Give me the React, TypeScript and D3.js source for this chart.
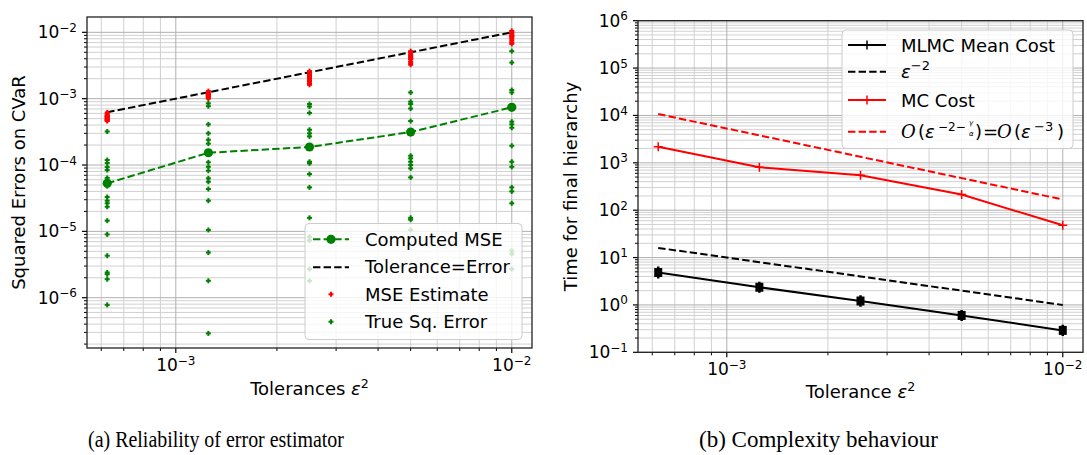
import React from 'react';
import * as d3 from 'd3';

// ---------- DATA ----------
const tolerances = [6.25e-4, 1.25e-3, 2.5e-3, 5e-3, 1e-2];
const computedMSE = [5.3e-5, 1.53e-4, 1.87e-4, 3.14e-4, 7.4e-4];
const toleranceLine = [6.25e-4, 1.25e-3, 2.5e-3, 5e-3, 1e-2];
const mseEstimates = [
  [6.2e-4, 5.9e-4, 5.6e-4, 5.4e-4, 5.2e-4, 5.0e-4, 4.9e-4, 4.7e-4, 4.6e-4, 5.5e-4, 5.3e-4, 4.8e-4],
  [1.3e-3, 1.24e-3, 1.18e-3, 1.14e-3, 1.1e-3, 1.07e-3, 1.04e-3, 1.0e-3, 1.12e-3, 1.16e-3],
  [2.6e-3, 2.45e-3, 2.3e-3, 2.2e-3, 2.1e-3, 2.0e-3, 1.9e-3, 1.8e-3, 1.7e-3, 1.62e-3, 2.05e-3],
  [5.2e-3, 4.9e-3, 4.6e-3, 4.4e-3, 4.2e-3, 3.9e-3, 3.6e-3, 3.4e-3, 3.25e-3, 4.0e-3],
  [1.05e-2, 1.0e-2, 9.5e-3, 9.0e-3, 8.5e-3, 8.0e-3, 7.5e-3, 7.0e-3, 6.7e-3, 8.8e-3],
];
const trueSqErrors = [
  [3.2e-4, 1.19e-4, 1.07e-4, 9.3e-5, 8.4e-5, 6.4e-5, 4.8e-5, 3.3e-5, 2.9e-5, 2.65e-5, 2.35e-5, 1.45e-5, 9.0e-6, 4.3e-6, 2.4e-6, 2.26e-6, 1.9e-6, 7.8e-7],
  [8.5e-4, 7.7e-4, 4.1e-4, 3.0e-4, 2.4e-4, 2.1e-4, 1.1e-4, 9.4e-5, 8.2e-5, 6.3e-5, 5.6e-5, 4.35e-5, 2.9e-5, 1.05e-5, 4.8e-6, 1.8e-6, 2.9e-7],
  [8.3e-4, 7.6e-4, 6.1e-4, 3.4e-4, 3.0e-4, 2.7e-4, 1.12e-4, 1.06e-4, 7.3e-5, 4.6e-5, 1.6e-5, 8.3e-6, 7.3e-6, 2.7e-6, 1.8e-6],
  [1.24e-3, 9.0e-4, 8.3e-4, 7.1e-4, 4.6e-4, 1.38e-4, 1.26e-4, 1.12e-4, 1.0e-4, 8.9e-5, 6.5e-5, 1.6e-5, 1.5e-5, 1.05e-5],
  [5.2e-3, 3.5e-3, 1.35e-3, 1.24e-3, 4.5e-4, 4.1e-4, 3.65e-4, 1.95e-4, 1.12e-4, 9.4e-5, 4.6e-5, 4.0e-5, 2.65e-5, 5.1e-6, 4.6e-6, 2.7e-6],
];

const mlmcCost = [4.83, 2.36, 1.21, 0.6, 0.29];
const mlmcLow = [3.6, 1.8, 0.92, 0.46, 0.22];
const mlmcHigh = [6.5, 3.1, 1.6, 0.78, 0.38];
const epsMinus2 = [16, 8, 4, 2, 1];
const mcCost = [2180, 807, 547, 214, 48];
const epsMinus3 = [10700, 3800, 1340, 475, 168];

const leftYTicks = [-6, -5, -4, -3, -2];
const rightYTicks = [-1, 0, 1, 2, 3, 4, 5, 6];
const xTicks = [-3, -2];

// ---------- HELPERS ----------
const FONT = 'DejaVu Sans, sans-serif';
const GREEN = '#008000';
const RED = '#ff0000';

function logGrid(domain: [number, number]) {
  const lo = Math.min(domain[0], domain[1]);
  const hi = Math.max(domain[0], domain[1]);
  const major: number[] = [];
  const minor: number[] = [];
  for (let e = Math.floor(Math.log10(lo)) - 1; e <= Math.ceil(Math.log10(hi)); e++) {
    for (let m = 1; m <= 9; m++) {
      const v = m * Math.pow(10, e);
      if (v < lo * 0.9999 || v > hi * 1.0001) continue;
      if (m === 1) major.push(v);
      else minor.push(v);
    }
  }
  return { major, minor };
}

function Pow10({ x, y, exp, anchor }: { x: number; y: number; exp: number; anchor: string }) {
  const s = exp < 0 ? '\u2212' + Math.abs(exp) : String(exp);
  return (
    <text x={x} y={y} textAnchor={anchor} fontFamily={FONT} fontSize={17} fill="#000">
      <tspan>10</tspan>
      <tspan dy={-6.5} fontSize={12}>{s}</tspan>
    </text>
  );
}

function Plus({ x, y, size, color, width }: { x: number; y: number; size: number; color: string; width: number }) {
  return (
    <g stroke={color} strokeWidth={width}>
      <line x1={x - size / 2} x2={x + size / 2} y1={y} y2={y} />
      <line x1={x} x2={x} y1={y - size / 2} y2={y + size / 2} />
    </g>
  );
}

type AxesProps = {
  left: number; right: number; top: number; bottom: number;
  x: d3.ScaleLogarithmic<number, number>;
  y: d3.ScaleLogarithmic<number, number>;
  yTicks: number[];
};

function Grid({ left, right, top, bottom, x, y }: AxesProps) {
  const gx = logGrid(x.domain() as [number, number]);
  const gy = logGrid(y.domain() as [number, number]);
  return (
    <g>
      {gx.minor.map((v, i) => (
        <line key={'xm' + i} x1={x(v)} x2={x(v)} y1={top} y2={bottom} stroke="#d0d0d0" strokeWidth={1} />
      ))}
      {gy.minor.map((v, i) => (
        <line key={'ym' + i} x1={left} x2={right} y1={y(v)} y2={y(v)} stroke="#d0d0d0" strokeWidth={1} />
      ))}
      {gx.major.map((v, i) => (
        <line key={'xM' + i} x1={x(v)} x2={x(v)} y1={top} y2={bottom} stroke="#b0b0b0" strokeWidth={1} />
      ))}
      {gy.major.map((v, i) => (
        <line key={'yM' + i} x1={left} x2={right} y1={y(v)} y2={y(v)} stroke="#b0b0b0" strokeWidth={1} />
      ))}
    </g>
  );
}

function Frame({ left, right, top, bottom, x, y, yTicks }: AxesProps) {
  const gx = logGrid(x.domain() as [number, number]);
  const gy = logGrid(y.domain() as [number, number]);
  return (
    <g>
      {gx.minor.map((v, i) => (
        <line key={'txm' + i} x1={x(v)} x2={x(v)} y1={bottom} y2={bottom + 3} stroke="#000" strokeWidth={1} />
      ))}
      {gx.major.map((v, i) => (
        <line key={'txM' + i} x1={x(v)} x2={x(v)} y1={bottom} y2={bottom + 5} stroke="#000" strokeWidth={1.2} />
      ))}
      {gy.minor.map((v, i) => (
        <line key={'tym' + i} x1={left - 3} x2={left} y1={y(v)} y2={y(v)} stroke="#000" strokeWidth={1} />
      ))}
      {gy.major.map((v, i) => (
        <line key={'tyM' + i} x1={left - 5} x2={left} y1={y(v)} y2={y(v)} stroke="#000" strokeWidth={1.2} />
      ))}
      <rect x={left} y={top} width={right - left} height={bottom - top} fill="none" stroke="#222" strokeWidth={1.3} />
      {xTicks.map((e) => (
        <Pow10 key={'xl' + e} x={x(Math.pow(10, e))} y={bottom + 23} exp={e} anchor="middle" />
      ))}
      {yTicks.map((e) => (
        <Pow10 key={'yl' + e} x={left - 10} y={y(Math.pow(10, e)) + 6} exp={e} anchor="end" />
      ))}
    </g>
  );
}

export default function App() {
  // Left panel
  const L = { left: 87, right: 532, top: 17, bottom: 348 };
  const xL = d3.scaleLog().domain([Math.pow(10, -3.2643), Math.pow(10, -1.9398)]).range([L.left, L.right]);
  const yL = d3.scaleLog().domain([Math.pow(10, -6.758), Math.pow(10, -1.769)]).range([L.bottom, L.top]);
  // Right panel
  const R = { left: 638, right: 1083, top: 20.7, bottom: 352.3 };
  const xR = d3.scaleLog().domain([Math.pow(10, -3.2643), Math.pow(10, -1.9398)]).range([R.left, R.right]);
  const yR = d3.scaleLog().domain([0.1, 1e6]).range([R.bottom, R.top]);

  const lineL = (vals: number[]) =>
    d3.line<number>().x((_, i) => xL(tolerances[i])).y((v) => yL(v))(vals) || '';
  const lineR = (vals: number[]) =>
    d3.line<number>().x((_, i) => xR(tolerances[i])).y((v) => yR(v))(vals) || '';

  const propsL = { ...L, x: xL, y: yL, yTicks: leftYTicks };
  const propsR = { ...R, x: xR, y: yR, yTicks: rightYTicks };

  return (
    <svg width={1087} height={455} style={{ position: 'absolute', left: 0, top: 0, background: '#fff' }}>
      <rect x={0} y={0} width={1087} height={455} fill="#fff" />
      <defs>
        <clipPath id="clipL"><rect x={L.left} y={L.top} width={L.right - L.left} height={L.bottom - L.top} /></clipPath>
        <clipPath id="clipR"><rect x={R.left} y={R.top} width={R.right - R.left} height={R.bottom - R.top} /></clipPath>
      </defs>
      {/* ---------------- Left panel ---------------- */}
      <Grid {...propsL} />
      <g clipPath="url(#clipL)">
        <path d={lineL(computedMSE)} fill="none" stroke={GREEN} strokeWidth={2} strokeDasharray="7.4,3.2" />
        {computedMSE.map((v, i) => (
          <circle key={'c' + i} cx={xL(tolerances[i])} cy={yL(v)} r={4.6} fill={GREEN} />
        ))}
        <path d={lineL(toleranceLine)} fill="none" stroke="#000" strokeWidth={2} strokeDasharray="7.4,3.2" />
        {mseEstimates.map((col, i) =>
          col.map((v, j) => <Plus key={'m' + i + '-' + j} x={xL(tolerances[i])} y={yL(v)} size={5} color={RED} width={2} />)
        )}
        {trueSqErrors.map((col, i) =>
          col.map((v, j) => <Plus key={'t' + i + '-' + j} x={xL(tolerances[i])} y={yL(v)} size={5} color={GREEN} width={2} />)
        )}
      </g>
      <Frame {...propsL} />
      {/* Left legend */}
      <g>
        <rect x={305} y={223.5} width={217} height={116} rx={4} fill="#fff" fillOpacity={0.8} stroke="#cccccc" strokeWidth={1} />
        <line x1={313} x2={349} y1={239.3} y2={239.3} stroke={GREEN} strokeWidth={2} strokeDasharray="7.4,3.2" />
        <circle cx={331} cy={239.3} r={4.6} fill={GREEN} />
        <line x1={313} x2={349} y1={267.3} y2={267.3} stroke="#000" strokeWidth={2} strokeDasharray="7.4,3.2" />
        <Plus x={331} y={294.3} size={5} color={RED} width={2} />
        <Plus x={331} y={321.7} size={5} color={GREEN} width={2} />
        <g fontFamily={FONT} fontSize={18} fill="#000">
          <text x={365} y={245.7}>Computed MSE</text>
          <text x={365} y={273.3}>Tolerance=Error</text>
          <text x={365} y={300.7}>MSE Estimate</text>
          <text x={365} y={327.7}>True Sq. Error</text>
        </g>
      </g>
      <text transform={`translate(25,${(L.top + L.bottom) / 2}) rotate(-90)`} textAnchor="middle" fontFamily={FONT} fontSize={18}>
        Squared Errors on CVaR
      </text>
      <text x={(L.left + L.right) / 2} y={395} textAnchor="middle" fontFamily={FONT} fontSize={18}>
        Tolerances <tspan fontStyle="italic">ε</tspan><tspan dy={-7} fontSize={12.6}>2</tspan>
      </text>

      {/* ---------------- Right panel ---------------- */}
      <Grid {...propsR} />
      <g clipPath="url(#clipR)">
        <path d={lineR(epsMinus3)} fill="none" stroke={RED} strokeWidth={2} strokeDasharray="7.4,3.2" />
        <path d={lineR(mcCost)} fill="none" stroke={RED} strokeWidth={2} />
        {mcCost.map((v, i) => (
          <Plus key={'mc' + i} x={xR(tolerances[i])} y={yR(v)} size={9} color={RED} width={1.5} />
        ))}
        <path d={lineR(epsMinus2)} fill="none" stroke="#000" strokeWidth={2} strokeDasharray="7.4,3.2" />
        <path d={lineR(mlmcCost)} fill="none" stroke="#000" strokeWidth={2} />
        {mlmcCost.map((v, i) => {
          const cx = xR(tolerances[i]);
          return (
            <g key={'ml' + i}>
              <line x1={cx} x2={cx} y1={yR(mlmcLow[i])} y2={yR(mlmcHigh[i])} stroke="#000" strokeWidth={2.5} />
              <rect x={cx - 4} y={yR(v) - 4.5} width={8} height={9} fill="#000" />
            </g>
          );
        })}
      </g>
      <Frame {...propsR} />
      {/* Right legend */}
      <g>
        <rect x={842} y={30} width={231} height={118.5} rx={4} fill="#fff" fillOpacity={0.8} stroke="#cccccc" strokeWidth={1} />
        <line x1={848} x2={886} y1={45} y2={45} stroke="#000" strokeWidth={2} />
        <Plus x={867} y={45} size={9} color="#000" width={1.5} />
        <line x1={848} x2={886} y1={71.7} y2={71.7} stroke="#000" strokeWidth={2} strokeDasharray="7.4,3.2" />
        <line x1={848} x2={886} y1={100} y2={100} stroke={RED} strokeWidth={2} />
        <Plus x={867} y={100} size={9} color={RED} width={1.5} />
        <line x1={848} x2={886} y1={131.7} y2={131.7} stroke={RED} strokeWidth={2} strokeDasharray="7.4,3.2" />
        <g fontFamily={FONT} fontSize={18} fill="#000">
          <text x={901} y={52.3}>MLMC Mean Cost</text>
          <text x={901} y={78.3}>
            <tspan fontStyle="italic">ε</tspan><tspan dy={-8} fontSize={13}>−2</tspan>
          </text>
          <text x={901} y={107.3}>MC Cost</text>
          <text x={901} y={138.3}>
            <tspan fontFamily="DejaVu Serif, serif" fontStyle="italic">O</tspan>
            <tspan x={918}>(</tspan>
            <tspan x={925} fontStyle="italic">ε</tspan>
            <tspan x={938} y={131} fontSize={12}>−2−</tspan>
            <tspan x={969} y={124.5} fontSize={7} fontStyle="italic">γ</tspan>
            <tspan x={969} y={135.5} fontSize={7} fontStyle="italic">α</tspan>
            <tspan x={975} y={138.3}>)</tspan>
            <tspan x={983}>=</tspan>
            <tspan x={997} fontFamily="DejaVu Serif, serif" fontStyle="italic">O</tspan>
            <tspan x={1014}>(</tspan>
            <tspan x={1021} fontStyle="italic">ε</tspan>
            <tspan x={1034} y={131} fontSize={13}>−3</tspan>
            <tspan x={1057} y={138.3}>)</tspan>
          </text>
        </g>
      </g>
      <text transform={`translate(577,${(R.top + R.bottom) / 2}) rotate(-90)`} textAnchor="middle" fontFamily={FONT} fontSize={18}>
        Time for final hierarchy
      </text>
      <text x={(R.left + R.right) / 2} y={398} textAnchor="middle" fontFamily={FONT} fontSize={18}>
        Tolerance <tspan fontStyle="italic">ε</tspan><tspan dy={-7} fontSize={12.6}>2</tspan>
      </text>

      {/* Captions */}
      <text x={216} y={447} textAnchor="middle" fontFamily="Liberation Serif, serif" fontSize={23}
        textLength={256} lengthAdjust="spacingAndGlyphs">
        (a) Reliability of error estimator
      </text>
      <text x={818.5} y={447} textAnchor="middle" fontFamily="Liberation Serif, serif" fontSize={23}
        textLength={239} lengthAdjust="spacingAndGlyphs">
        (b) Complexity behaviour
      </text>
    </svg>
  );
}
